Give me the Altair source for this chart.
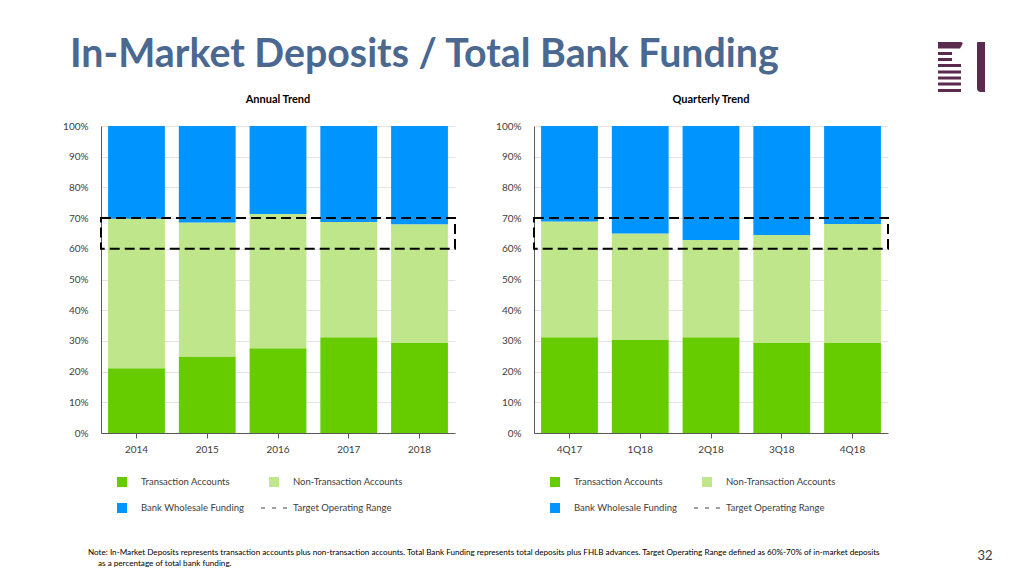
import altair as alt
import pandas as pd
import urllib.parse

FONT = "Lato"
TEXT = "#404040"

title_text = "In-Market Deposits / Total Bank Funding"
panel_titles = ["Annual Trend", "Quarterly Trend"]

annual_categories = ["2014", "2015", "2016", "2017", "2018"]
annual_transaction = [0.211, 0.249, 0.276, 0.312, 0.293]
annual_in_market = [0.698, 0.686, 0.713, 0.687, 0.680]

quarter_categories = ["4Q17", "1Q18", "2Q18", "3Q18", "4Q18"]
quarter_transaction = [0.312, 0.303, 0.312, 0.293, 0.293]
quarter_in_market = [0.689, 0.650, 0.629, 0.645, 0.681]

series_names = ["Transaction Accounts", "Non-Transaction Accounts", "Bank Wholesale Funding"]
series_colors = ["#66CC00", "#BFE68A", "#0094FF"]
target_label = "Target Operating Range"
target_range = [0.60, 0.70]
y_ticks = [0, 0.1, 0.2, 0.3, 0.4, 0.5, 0.6, 0.7, 0.8, 0.9, 1.0]

note_lines = [
    "Note: In-Market Deposits represents transaction accounts plus non-transaction accounts. Total Bank Funding represents total deposits plus FHLB advances. Target Operating Range defined as 60%-70% of in-market deposits",
    "as a percentage of total bank funding.",
]
page_number = "32"

logo_svg = (
    "<svg xmlns='http://www.w3.org/2000/svg' width='50' height='52' viewBox='0 0 50 52'>"
    "<path d='M2 0 H24 Q28 0 26 3 L24 6.5 H2 Z' fill='#5A2A4F'/>"
    "<rect x='2' y='10' width='14' height='3' fill='#5A2A4F'/>"
    "<rect x='2' y='16' width='14' height='3' fill='#5A2A4F'/>"
    "<rect x='2' y='22' width='23' height='3' fill='#5A2A4F'/>"
    "<rect x='2' y='28.5' width='23' height='3' fill='#5A2A4F'/>"
    "<rect x='2' y='34.5' width='23' height='3' fill='#5A2A4F'/>"
    "<rect x='2' y='40.5' width='23' height='3' fill='#5A2A4F'/>"
    "<rect x='2' y='47' width='23' height='3' fill='#5A2A4F'/>"
    "<path d='M42 0 H49 V50 H45 Q41 50 41 46 V1 Q41 0 42 0 Z' fill='#5A2A4F'/>"
    "</svg>"
)
logo_url = "data:image/svg+xml;utf8," + urllib.parse.quote(logo_svg)

color_scale = alt.Scale(domain=series_names, range=series_colors)


def y_axis():
    return alt.Axis(title=None, format=".0%", values=y_ticks, grid=True,
                    ticks=False, labelPadding=13)


def stack_frame(cats, trans, inmkt):
    rows = []
    for c, t, m in zip(cats, trans, inmkt):
        rows.append({"cat": c, "series": series_names[0], "value": t, "ord": 0})
        rows.append({"cat": c, "series": series_names[1], "value": m - t, "ord": 1})
        rows.append({"cat": c, "series": series_names[2], "value": 1 - m, "ord": 2})
    return pd.DataFrame(rows)


def legend_chart():
    labels = series_names[:2] + [series_names[2], target_label]
    df = pd.DataFrame({
        "label": labels,
        "col": [0, 1, 0, 1],
        "row": [0, 0, 1, 1],
        "kind": ["sq", "sq", "sq", "dash"],
    })
    base = alt.Chart(df).encode(
        x=alt.X("col:O", scale=alt.Scale(type="point", range=[21, 173], padding=0), axis=None),
        y=alt.Y("row:O", scale=alt.Scale(type="point", range=[18, 44], padding=0), axis=None),
    )
    sq = base.transform_filter("datum.kind == 'sq'").mark_square(size=100, opacity=1).encode(
        color=alt.Color("label:N", scale=color_scale, legend=None)
    )
    dash = base.transform_filter("datum.kind == 'dash'").mark_point(
        shape="stroke", size=676, strokeDash=[4, 7], color="#404040", strokeWidth=1, opacity=1
    )
    txt = base.mark_text(align="left", dx=19, fontSize=9.5, font=FONT, color=TEXT).encode(text="label:N")
    return alt.layer(sq, dash, txt).properties(width=354, height=50)


def panel(cats, trans, inmkt, ptitle):
    df = stack_frame(cats, trans, inmkt)
    bars = alt.Chart(df).mark_bar().encode(
        x=alt.X("cat:N", sort=cats,
                scale=alt.Scale(paddingInner=0.197, paddingOuter=0.1),
                axis=alt.Axis(title=None, labelAngle=0, ticks=True, tickSize=5,
                              labelPadding=6, grid=False)),
        y=alt.Y("value:Q", stack="zero", scale=alt.Scale(domain=[0, 1]), axis=y_axis()),
        color=alt.Color("series:N", scale=color_scale, legend=None),
        order=alt.Order("ord:Q"),
    )
    box = alt.Chart(pd.DataFrame({"lo": [target_range[0]], "hi": [target_range[1]]})).mark_rect(
        fill="transparent", stroke="black", strokeWidth=2, strokeDash=[10, 5]
    ).encode(y=alt.Y("lo:Q", axis=y_axis()), y2="hi:Q")
    chart = alt.layer(bars, box).properties(
        width=354, height=307,
        title=alt.TitleParams(ptitle, fontSize=11, fontWeight="bold", font=FONT,
                              color="#000000", offset=16, anchor="middle"),
    )
    return alt.vconcat(chart, legend_chart(), spacing=10)


header = alt.layer(
    alt.Chart(pd.DataFrame({"t": [title_text]})).mark_text(
        align="left", baseline="alphabetic", fontSize=39.3, font=FONT, fontWeight="bold",
        color="#4A6890"
    ).encode(text="t:N", x=alt.value(-31), y=alt.value(59)),
    alt.Chart(pd.DataFrame({"img": [logo_url]})).mark_image(
        width=50, height=52, align="center", baseline="middle"
    ).encode(url="img:N", x=alt.value(860), y=alt.value(60)),
).properties(width=780, height=83)

footnote = alt.layer(
    alt.Chart(pd.DataFrame({"t": [note_lines[0]]})).mark_text(
        align="left", baseline="middle", fontSize=8.15, font=FONT, color="#000000"
    ).encode(text="t:N", x=alt.value(-13), y=alt.value(39)),
    alt.Chart(pd.DataFrame({"t": [note_lines[1]]})).mark_text(
        align="left", baseline="middle", fontSize=8.15, font=FONT, color="#000000"
    ).encode(text="t:N", x=alt.value(-3), y=alt.value(50)),
    alt.Chart(pd.DataFrame({"t": [page_number]})).mark_text(
        align="center", baseline="middle", fontSize=13, font=FONT, color=TEXT
    ).encode(text="t:N", x=alt.value(884), y=alt.value(42)),
).properties(width=780, height=40)

chart = alt.vconcat(
    header,
    alt.hconcat(
        panel(annual_categories, annual_transaction, annual_in_market, panel_titles[0]),
        panel(quarter_categories, quarter_transaction, quarter_in_market, panel_titles[1]),
        spacing=39,
    ),
    footnote,
    spacing=0,
).properties(
    padding={"left": 54, "top": 0, "right": 0, "bottom": 0},
    background="white",
).configure_view(stroke=None, strokeWidth=0).configure_axis(
    labelFont=FONT, labelColor=TEXT, labelFontSize=10, domainColor="#595959",
    tickColor="#595959", gridColor="#E4E4E4", gridWidth=1, domainWidth=1
)

chart.save("out.html", embed_options={"renderer": "svg", "actions": False})
